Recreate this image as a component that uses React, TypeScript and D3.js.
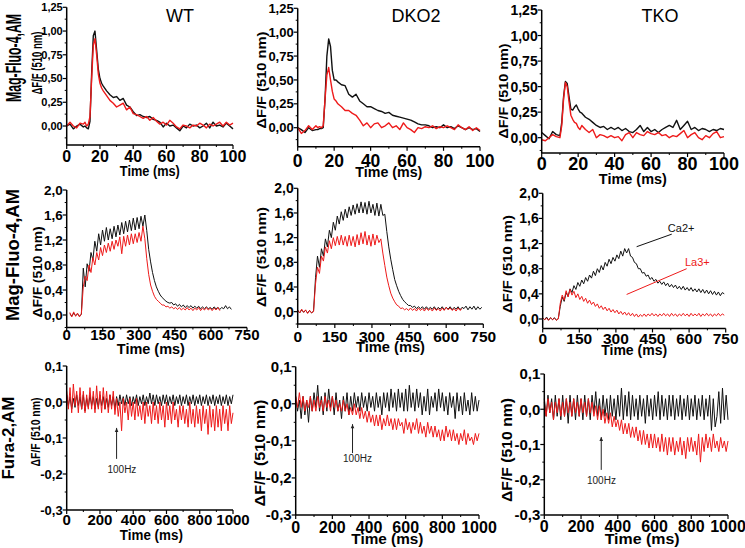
import React from "react";
import * as d3 from "d3";

// ---------------- data ----------------
// Row 1: single twitch, Mag-Fluo-4 (time in ms)
const ROW1_TIME = [0, 2, 4, 6, 8, 10, 11, 12, 13, 14, 15, 16, 17, 18, 19, 20, 21, 22, 24, 26, 28, 30, 32, 34, 36, 38, 40, 42, 44, 46, 48, 50, 52, 54, 56, 58, 60, 62, 64, 66, 68, 70, 72, 74, 76, 78, 80, 82, 84, 86, 88, 90, 92, 94, 96, 98, 100];

const WT_R1_BLACK = [0, .02, -.03, 0, .02, -.01, 0, -.02, -.03, .05, .55, .95, 1.0, .8, .6, .5, .45, .42, .37, .33, .3, .31, .27, .29, .22, .2, .15, .11, .12, .1, .09, .1, .07, .06, .04, -.01, .03, 0, .01, -.02, -.05, 0, -.02, .02, 0, .01, -.02, 0, .03, -.02, .04, 0, .01, -.01, .03, 0, -.03];
const WT_R1_RED = [0, .04, 0, -.02, .03, .02, .04, 0, .02, .1, .5, .85, .92, .75, .55, .45, .4, .37, .32, .27, .24, .2, .22, .24, .17, .2, .13, .12, .1, .08, .1, .06, .09, .05, .02, .04, .01, .06, .03, -.01, -.03, .01, 0, -.02, .01, 0, .03, .01, -.02, .02, 0, .02, .04, 0, .04, .01, .03];

const DKO_R1_BLACK = [0, -.02, -.05, 0, -.03, -.02, -.02, -.01, -.01, 0, .3, .75, .93, .85, .6, .5, .5, .48, .45, .44, .35, .32, .35, .28, .25, .22, .22, .2, .18, .17, .15, .16, .13, .12, .11, .1, .09, .08, .06, .04, .03, .03, .02, 0, .01, 0, .03, 0, .01, -.01, .02, 0, -.02, 0, -.02, -.01, -.04];
const DKO_R1_RED = [0, -.06, -.03, .02, -.02, .02, 0, .01, 0, .02, .3, .55, .63, .5, .38, .3, .28, .25, .22, .18, .18, .15, .13, .08, .02, .05, 0, .04, .05, 0, .02, .05, 0, .02, -.02, .05, 0, -.02, -.05, 0, -.01, .01, 0, .02, -.01, .01, 0, .02, 0, -.02, .03, 0, -.02, .01, -.03, 0, -.03];

const TKO_R1_BLACK = [.05, .02, -.01, .06, .03, .02, .15, .4, .55, .53, .4, .28, .27, .3, .32, .28, .25, .24, .2, .18, .15, .12, .1, .11, .08, .1, .08, .1, .07, .09, .06, .05, .08, .12, .06, .1, .06, .08, .05, .08, .1, .12, .1, .17, .08, .12, .16, .08, .1, .07, .09, .08, .06, .08, .07, .09, .08];
const TKO_R1_RED = [-.02, -.03, 0, .03, .01, 0, .12, .38, .54, .5, .35, .22, .18, .15, .14, .1, .08, .12, .08, .05, .08, 0, .03, .02, 0, .02, 0, .01, -.03, .03, .05, 0, .05, .03, .02, .06, .04, .03, .05, .02, .03, 0, .02, .01, .04, .07, 0, .03, .05, 0, -.02, .02, 0, .04, .06, 0, .01];

// Row 2: tetanic train, Mag-Fluo-4 (sampled every 8 ms from the given start)
const ROW2_STEP = 8;
const WT_R2_START = 13;
const DKO_R2_START = 0;
const TKO_R2_START = 0;

const WT_R2_BLACK = [.02, -.02, .03, -.01, .02, -.02, .01,
  .75, .45, .82, .7, 1.0, .88, 1.18, 1.02, 1.3, 1.12,
  1.36, 1.18, 1.4, 1.2, 1.38, 1.22, 1.42, 1.25, 1.44, 1.28,
  1.48, 1.3, 1.5, 1.33, 1.52, 1.35, 1.55, 1.36,
  1.56, 1.38, 1.58, 1.42, 1.6, 1.35, 1.05, .85, .68, .55,
  .45, .38, .32, .28, .25, .22, .2, .19, .2, .16,
  .18, .14, .17, .13, .16, .12, .15, .12, .15, .11,
  .14, .11, .14, .1, .13, .1, .13, .1, .12, .09,
  .13, .1, .12, .09, .12, .1, .15, .1, .13, .09];
const WT_R2_RED = [.04, -.03, .05, -.02, .03, -.03, .02,
  .45, .62, .55, .8, .68, .92, .8, 1.0, .88, 1.08,
  .95, 1.12, 1.0, 1.15, 1.02, 1.18, 1.05, 1.2,
  1.1, 1.25, .98, 1.26, 1.1, 1.28, 1.12, 1.3, 1.14, 1.3,
  1.16, 1.32, 1.18, 1.42, 1.22, .9, .65, .48, .38, .3,
  .25, .22, .19, .16, .16, .13, .14, .11, .13, .1,
  .12, .09, .12, .08, .11, .08, .12, .08, .11, .07,
  .11, .08, .12, .07, .11, .08, .12, .08, .11, .07,
  .11, .08, .12, .07];

const DKO_R2_BLACK = [.02, -.02, .03, -.01, .02, -.02, .02, -.02, .01,
  .55, .9, .72, 1.02, .9, 1.18, 1.05, 1.32, 1.2, 1.45,
  1.32, 1.55, 1.42, 1.62, 1.48, 1.66, 1.52, 1.7, 1.56, 1.73,
  1.58, 1.75, 1.6, 1.78, 1.6, 1.77, 1.58, 1.79, 1.6, 1.74,
  1.56, 1.76, 1.55, 1.74, 1.56, 1.58, 1.3, 1.05, .85, .68,
  .52, .42, .33, .26, .2, .16, .13, .1, .1, .07,
  .09, .05, .08, .05, .08, .04, .08, .04, .07, .04,
  .08, .03, .07, .04, .08, .03, .07, .04, .08, .03,
  .07, .04, .08, .03, .07, .05, .09, .03, .08, .04,
  .09, .03, .08, .04, .07];
const DKO_R2_RED = [.03, -.02, .04, -.01, .03, -.03, .02, -.02, 0,
  .45, .72, .62, .9, .82, 1.05, .95, 1.15, 1.02, 1.2,
  1.07, 1.22, 1.08, 1.24, 1.08, 1.22, 1.06, 1.24, 1.07, 1.22,
  1.05, 1.25, 1.08, 1.28, 1.1, 1.3, 1.08, 1.24, 1.06, 1.26,
  1.08, 1.24, 1.12, 1.18, .95, .75, .56, .42,
  .3, .22, .16, .11, .09, .05, .06, .03, .05, .02,
  .06, .02, .05, .01, .06, .02, .05, .01, .06, .02,
  .05, .01, .06, .02, .05, .01, .06, .02, .07, .03,
  .06, .02, .05, .01, .06, .02, .05];

const TKO_R2_BLACK = [.02, -.01, .03, -.02, .02, -.01, .02, -.02, .01,
  .2, .35, .28, .42, .36, .48, .42, .53, .47, .58,
  .52, .62, .56, .66, .6, .7, .65, .76, .69, .8,
  .74, .85, .78, .9, .84, .95, .88, .98, .92, 1.02,
  .96, 1.08, 1.0, 1.12, 1.05, 1.12, 1.0, .98, .9, .88,
  .8, .8, .73, .74, .68, .7, .63, .66, .6, .63,
  .57, .6, .55, .59, .53, .57, .51, .55, .5, .54,
  .48, .52, .47, .52, .46, .5, .45, .5, .44, .48,
  .43, .48, .42, .47, .41, .46, .4, .45, .39, .44,
  .38, .43, .37, .42, .4];
const TKO_R2_RED = [.02, -.01, .01, -.02, .02, -.01, .01, -.02, 0,
  .25, .38, .3, .45, .35, .47, .38, .44, .34, .4,
  .31, .36, .28, .33, .25, .3, .23, .27, .2, .24,
  .17, .21, .15, .19, .13, .17, .11, .15, .1, .14,
  .08, .12, .07, .11, .06, .1, .05, .09, .04, .08,
  .03, .07, .04, .08, .04, .08, .05, .09, .05, .08,
  .04, .08, .05, .09, .05, .08, .04, .09, .05, .08,
  .04, .08, .05, .09, .05, .08, .04, .09, .05, .08,
  .05, .09, .04, .08, .05, .09, .05, .08, .04, .08,
  .05, .09, .05, .08, .06];

// Row 3: Fura-2, 100 Hz (sampled every 10 ms from 0)
const ROW3_STEP = 10;
const WT_R3_BLACK = [
  .02, -.01, .015, -.02, .01, -.015, .02, -.01, .015, -.02,
  .02, -.025, .01, -.015, .02, -.01, .015, -.02, .01, -.015,
  .02, -.01, .015, -.02, .01, -.015, .02, -.01, .015, -.02,
  .015, -.01, .02, -.005, .015, -.01, .02, -.005, .015, -.01,
  .015, -.005, .02, -.01, .015, -.005, .02, -.01, .015, -.005,
  .025, -.005, .02, -.01, .02, -.005, .015, -.01, .02, -.005,
  .02, -.01, .015, -.005, .02, -.01, .015, -.005, .02, -.01,
  .015, -.005, .02, -.01, .015, -.005, .02, -.01, .015, -.005,
  .02, -.01, .015, -.005, .02, -.01, .015, -.005, .02, -.01,
  .015, -.005, .02, -.01, .015, -.005, .02, -.01, .015, -.005,
  .02];
const WT_R3_RED = [
  .03, -.02, .04, -.03, .05, -.01, .03, -.03, .04, -.02,
  .03, -.03, .02, -.02, .04, -.02, .03, -.03, .045, -.02,
  .03, -.03, .04, -.02, .03, -.03, .02, -.02, .03, -.035,
  .01, -.04, 0, -.08, .01, -.03, 0, -.05, .01, -.04,
  0, -.05, .01, -.04, -.01, -.05, 0, -.06, 0, -.04,
  -.01, -.06, 0, -.05, -.01, -.06, 0, -.05, -.01, -.07,
  0, -.05, -.01, -.06, 0, -.05, -.02, -.07, -.01, -.05,
  -.01, -.06, -.02, -.07, 0, -.06, -.02, -.07, -.01, -.06,
  -.02, -.08, -.01, -.06, -.02, -.09, -.01, -.07, -.02, -.08,
  -.01, -.07, -.02, -.08, -.01, -.06, -.02, -.08, -.01, -.06,
  -.03];

const DKO_R3_BLACK = [
  .02, -.02, .01, -.04, .02, -.03, .01, -.05, .02, -.02,
  .03, -.01, .05, -.02, .02, -.03, .03, -.02, .04, -.01,
  .02, -.03, .03, -.02, .01, -.04, .02, -.02, .03, -.03,
  .02, -.02, .03, -.01, .02, -.02, .03, -.01, .02, -.02,
  .03, -.01, .02, -.02, .03, -.01, .02, -.03, .03, -.01,
  .03, -.02, .04, -.01, .03, -.02, .04, -.01, .03, -.02,
  .04, -.02, .05, -.01, .03, -.02, .04, -.01, .03, -.03,
  .02, -.02, .04, -.03, .02, -.01, .03, -.02, .04, -.01,
  .03, -.02, .02, -.03, .03, -.01, .02, -.04, .03, -.02,
  .02, -.03, .03, -.02, .01, -.03, .03, -.02, .02, -.02,
  .01];
const DKO_R3_RED = [
  .02, -.01, .03, -.01, .02, -.02, .01, -.01, .02, -.02,
  .01, -.02, .02, -.01, .01, -.02, .02, -.01, .01, -.02,
  .02, -.01, .01, -.02, 0, -.02, .01, -.02, 0, -.03,
  -.01, -.03, 0, -.03, -.01, -.04, -.01, -.04, -.02, -.05,
  -.02, -.05, -.03, -.06, -.03, -.06, -.03, -.07, -.04, -.06,
  -.03, -.06, -.04, -.07, -.04, -.07, -.04, -.06, -.05, -.08,
  -.04, -.07, -.05, -.08, -.05, -.07, -.04, -.08, -.05, -.08,
  -.06, -.09, -.05, -.08, -.06, -.09, -.06, -.09, -.07, -.1,
  -.07, -.1, -.06, -.09, -.07, -.1, -.07, -.1, -.08, -.11,
  -.08, -.1, -.07, -.11, -.08, -.1, -.09, -.11, -.08, -.1,
  -.08];

const TKO_R3_BLACK = [
  .03, -.02, .04, -.01, .03, -.03, .04, -.02, .03, -.03,
  .04, -.02, .03, -.04, .04, -.02, .03, -.03, .04, -.02,
  .03, -.03, .04, -.02, .03, -.03, .04, -.01, .05, -.02,
  .03, -.03, .04, -.02, .03, -.03, .04, -.02, .03, -.03,
  .04, -.02, .06, -.03, .04, -.02, .05, -.03, .04, -.02,
  .03, -.03, .04, -.02, .03, -.04, .04, -.02, .03, -.03,
  .04, -.02, .05, -.03, .04, -.02, .03, -.03, .04, -.02,
  .04, -.03, .03, -.02, .04, -.03, .03, -.02, .04, -.03,
  .03, -.02, .04, -.03, .03, -.02, .04, -.03, .03, -.02,
  .04, -.06, .03, -.05, -.02, .05, -.04, .06, -.03, .04,
  -.03];
const TKO_R3_RED = [
  .02, -.02, .03, -.01, .02, -.03, .02, -.01, .03, -.02,
  .02, -.02, .03, -.01, .02, -.02, .03, -.01, .02, -.02,
  .03, -.01, .02, -.02, .03, -.01, .02, -.02, .01, -.03,
  .01, -.03, 0, -.04, -.01, -.04, -.01, -.05, -.02, -.05,
  -.03, -.06, -.03, -.07, -.04, -.07, -.04, -.08, -.05, -.08,
  -.05, -.09, -.06, -.1, -.06, -.1, -.07, -.11, -.07, -.11,
  -.07, -.11, -.08, -.12, -.07, -.12, -.08, -.13, -.08, -.12,
  -.08, -.13, -.09, -.12, -.08, -.13, -.09, -.14, -.08, -.12,
  -.08, -.12, -.09, -.13, -.07, -.15, -.08, -.12, -.07, -.11,
  -.08, -.12, -.07, -.11, -.09, -.12, -.08, -.11, -.09, -.12,
  -.09];

// tick values
const ROW1_X_TICKS = [0, 20, 40, 60, 80, 100];
const ROW1_Y_TICKS = [0, 0.25, 0.5, 0.75, 1.0, 1.25];
const ROW2_X_TICKS = [0, 150, 300, 450, 600, 750];
const ROW2_Y_TICKS = [0, 0.4, 0.8, 1.2, 1.6, 2.0];
const ROW3_X_TICKS = [0, 200, 400, 600, 800, 1000];
const ROW3_Y_TICKS = [-0.3, -0.2, -0.1, 0, 0.1];

// texts
const COLUMN_TITLES = ["WT", "DKO2", "TKO"];
const ROW_TITLES = ["Mag-Fluo-4,AM", "Mag-Fluo-4,AM", "Fura-2,AM"];
const X_TITLE = "Time (ms)";
const Y_TITLE = "\u0394F/F (510 nm)";
const STIM_LABEL = "100Hz";
const STIM_TIME = [300, 310, 310];
const ION_LABELS = ["Ca2+", "La3+"];

// ---------------- helpers ----------------
type Pt = [number, number];
const zipXY = (xs: number[], ys: number[]): Pt[] =>
  ys.slice(0, xs.length).map((v, i) => [xs[i], v] as Pt);
const regular = (start: number, step: number, ys: number[]): Pt[] =>
  ys.map((v, i) => [start + i * step, v] as Pt);

const locale = d3.formatLocale({ decimal: ",", thousands: ".", grouping: [3], currency: ["", ""], minus: "-" });

const FONT = "'Liberation Sans', Arial, Helvetica, sans-serif";
const BLACK = "#111111";
const RED = "#ee1a1a";

// ---------------- layout ----------------
type Spec = {
  x0: number; x1: number; yT: number; yB: number;
  xDom: [number, number]; yDom: [number, number];
  xTicks: number[]; yTicks: number[]; xMinor: number; yMinor: number; yFmt: string;
  black: Pt[]; red: Pt[]; sw: number;
  xTickFs: number; xTickOff: number; yTickFs: number;
  timeOff: number; timeLen: number; timeDx: number; timeFs: number;
  yLab: { cx: number; cy: number; len: number; fs: number };
};

const SPECS: Spec[] = [
  { x0: 66.7, x1: 233, yT: 7.3, yB: 145, xDom: [0, 100], yDom: [-0.2, 1.25], xTicks: ROW1_X_TICKS, yTicks: ROW1_Y_TICKS, xMinor: 10, yMinor: 0.125, yFmt: ".2f",
    black: zipXY(ROW1_TIME, WT_R1_BLACK), red: zipXY(ROW1_TIME, WT_R1_RED), sw: 1.4,
    xTickFs: 16, xTickOff: 17, yTickFs: 11, timeOff: 31, timeLen: 60, timeDx: 0, timeFs: 14, yLab: { cx: 37, cy: 63, len: 63, fs: 14 } },
  { x0: 297.7, x1: 480, yT: 8.3, yB: 146.8, xDom: [0, 100], yDom: [-0.2, 1.25], xTicks: ROW1_X_TICKS, yTicks: ROW1_Y_TICKS, xMinor: 10, yMinor: 0.125, yFmt: ".2f",
    black: zipXY(ROW1_TIME, DKO_R1_BLACK), red: zipXY(ROW1_TIME, DKO_R1_RED), sw: 1.4,
    xTickFs: 17.5, xTickOff: 20, yTickFs: 13, timeOff: 30.5, timeLen: 67, timeDx: 0, timeFs: 15, yLab: { cx: 261, cy: 80, len: 97, fs: 13.5 } },
  { x0: 541.7, x1: 724, yT: 10, yB: 153, xDom: [0, 100], yDom: [-0.15, 1.25], xTicks: ROW1_X_TICKS, yTicks: ROW1_Y_TICKS, xMinor: 10, yMinor: 0.125, yFmt: ".2f",
    black: zipXY(ROW1_TIME, TKO_R1_BLACK), red: zipXY(ROW1_TIME, TKO_R1_RED), sw: 1.4,
    xTickFs: 18, xTickOff: 17, yTickFs: 14, timeOff: 31, timeLen: 68, timeDx: 0, timeFs: 15, yLab: { cx: 503.5, cy: 91, len: 95, fs: 13.5 } },

  { x0: 66.7, x1: 247, yT: 190, yB: 327.5, xDom: [0, 750], yDom: [-0.2, 2.0], xTicks: ROW2_X_TICKS, yTicks: ROW2_Y_TICKS, xMinor: 75, yMinor: 0.2, yFmt: ".1f",
    black: regular(WT_R2_START, ROW2_STEP, WT_R2_BLACK), red: regular(WT_R2_START, ROW2_STEP, WT_R2_RED), sw: 1,
    xTickFs: 15, xTickOff: 12.5, yTickFs: 13.5, timeOff: 26.5, timeLen: 68, timeDx: -6, timeFs: 15, yLab: { cx: 37.5, cy: 272, len: 91, fs: 13.5 } },
  { x0: 297.7, x1: 483.3, yT: 188.3, yB: 324, xDom: [0, 750], yDom: [-0.2, 2.0], xTicks: ROW2_X_TICKS, yTicks: ROW2_Y_TICKS, xMinor: 75, yMinor: 0.2, yFmt: ".1f",
    black: regular(DKO_R2_START, ROW2_STEP, DKO_R2_BLACK), red: regular(DKO_R2_START, ROW2_STEP, DKO_R2_RED), sw: 1,
    xTickFs: 15.5, xTickOff: 18, yTickFs: 14, timeOff: 28, timeLen: 69, timeDx: 0, timeFs: 15, yLab: { cx: 261.5, cy: 257, len: 100, fs: 13.5 } },
  { x0: 542.7, x1: 725.7, yT: 193.3, yB: 328.4, xDom: [0, 750], yDom: [-0.15, 2.0], xTicks: ROW2_X_TICKS, yTicks: ROW2_Y_TICKS, xMinor: 75, yMinor: 0.2, yFmt: ".1f",
    black: regular(TKO_R2_START, ROW2_STEP, TKO_R2_BLACK), red: regular(TKO_R2_START, ROW2_STEP, TKO_R2_RED), sw: 1,
    xTickFs: 15.5, xTickOff: 15.6, yTickFs: 14, timeOff: 27, timeLen: 66, timeDx: 0, timeFs: 15, yLab: { cx: 507, cy: 264, len: 98, fs: 13.5 } },

  { x0: 66.7, x1: 233, yT: 366, yB: 510, xDom: [0, 1000], yDom: [-0.3, 0.1], xTicks: ROW3_X_TICKS, yTicks: ROW3_Y_TICKS, xMinor: 100, yMinor: 0.05, yFmt: ".1f",
    black: regular(0, ROW3_STEP, WT_R3_BLACK), red: regular(0, ROW3_STEP, WT_R3_RED), sw: 1,
    xTickFs: 15, xTickOff: 15, yTickFs: 13, timeOff: 30, timeLen: 63, timeDx: 1.5, timeFs: 14, yLab: { cx: 35, cy: 432, len: 69, fs: 13 } },
  { x0: 295.7, x1: 479, yT: 366.7, yB: 515, xDom: [0, 1000], yDom: [-0.3, 0.1], xTicks: ROW3_X_TICKS, yTicks: ROW3_Y_TICKS, xMinor: 100, yMinor: 0.05, yFmt: ".1f",
    black: regular(0, ROW3_STEP, DKO_R3_BLACK), red: regular(0, ROW3_STEP, DKO_R3_RED), sw: 1,
    xTickFs: 16, xTickOff: 18, yTickFs: 15, timeOff: 29, timeLen: 72, timeDx: 0, timeFs: 15, yLab: { cx: 259.5, cy: 453, len: 107, fs: 14 } },
  { x0: 544.3, x1: 728, yT: 374, yB: 515, xDom: [0, 1000], yDom: [-0.3, 0.1], xTicks: ROW3_X_TICKS, yTicks: ROW3_Y_TICKS, xMinor: 100, yMinor: 0.05, yFmt: ".1f",
    black: regular(0, ROW3_STEP, TKO_R3_BLACK), red: regular(0, ROW3_STEP, TKO_R3_RED), sw: 1,
    xTickFs: 16, xTickOff: 17, yTickFs: 15, timeOff: 28.5, timeLen: 75, timeDx: 6, timeFs: 15, yLab: { cx: 507, cy: 450, len: 104, fs: 14 } },
];

// annotation positions (data coords)
const STIM_ANN = [
  { y0: -0.158, y1: -0.072, tx: 332, ty: -0.197 },
  { y0: -0.133, y1: -0.055, tx: 337, ty: -0.158 },
  { y0: -0.172, y1: -0.079, tx: 311, ty: -0.213 },
];
const ION_ANN = [
  { line: [[385, 1.15], [529, 1.35]] as Pt[], text: [513, 1.385] as Pt, color: BLACK },
  { line: [[344, 0.39], [590, 0.8]] as Pt[], text: [583, 0.84] as Pt, color: RED },
];

const TITLE_POS = [{ x: 180, y: 22 }, { x: 416, y: 22 }, { x: 660, y: 22 }];
const ROW_TITLE_POS = [
  { cx: 13, cy: 58, len: 88, fs: 22 },
  { cx: 12.5, cy: 255, len: 132, fs: 19 },
  { cx: 8.5, cy: 438, len: 83, fs: 17 },
];

function minorTicks(dom: [number, number], step: number, majors: number[]) {
  const out: number[] = [];
  const start = Math.ceil(dom[0] / step - 1e-9) * step;
  for (let v = start; v <= dom[1] + 1e-9; v += step) {
    if (!majors.some((m) => Math.abs(m - v) < 1e-6)) out.push(v);
  }
  return out;
}

function Panel({ s, idx }: { s: Spec; idx: number }) {
  const xs = d3.scaleLinear().domain(s.xDom).range([s.x0, s.x1]);
  const ys = d3.scaleLinear().domain(s.yDom).range([s.yB, s.yT]);
  const fmt = locale.format(s.yFmt);
  const line = d3.line<Pt>().x((d) => xs(d[0])).y((d) => ys(d[1]));
  const xMin = minorTicks(s.xDom, s.xMinor, s.xTicks);
  const yMin = minorTicks(s.yDom, s.yMinor, s.yTicks);
  const row = Math.floor(idx / 3);
  const col = idx % 3;
  return (
    <g>
      <path d={line(s.black) || ""} fill="none" stroke={BLACK} strokeWidth={s.sw} strokeLinejoin="round" />
      <path d={line(s.red) || ""} fill="none" stroke={RED} strokeWidth={s.sw} strokeLinejoin="round" />
      {/* axes */}
      <line x1={s.x0} x2={s.x0} y1={ys(s.yDom[0])} y2={ys(s.yDom[1])} stroke="#000" strokeWidth={1.5} />
      <line x1={s.x0} x2={xs(s.xDom[1])} y1={s.yB} y2={s.yB} stroke="#000" strokeWidth={1.5} />
      {s.yTicks.map((t) => (
        <g key={"yt" + t}>
          <line x1={s.x0 - 4} x2={s.x0} y1={ys(t)} y2={ys(t)} stroke="#000" strokeWidth={1.2} />
          <text x={s.x0 - 4} y={ys(t)} dy="0.36em" textAnchor="end" fontSize={s.yTickFs} fontWeight="bold" fontFamily={FONT}>{fmt(t)}</text>
        </g>
      ))}
      {yMin.map((t) => (
        <line key={"ym" + t} x1={s.x0 - 2} x2={s.x0} y1={ys(t)} y2={ys(t)} stroke="#000" strokeWidth={1} />
      ))}
      {s.xTicks.map((t) => (
        <g key={"xt" + t}>
          <line x1={xs(t)} x2={xs(t)} y1={s.yB} y2={s.yB + 4} stroke="#000" strokeWidth={1.2} />
          <text x={xs(t)} y={s.yB + s.xTickOff} textAnchor="middle" fontSize={s.xTickFs} fontWeight="bold" fontFamily={FONT}>{String(t)}</text>
        </g>
      ))}
      {xMin.map((t) => (
        <line key={"xm" + t} x1={xs(t)} x2={xs(t)} y1={s.yB} y2={s.yB + 2} stroke="#000" strokeWidth={1} />
      ))}
      <text x={(s.x0 + s.x1) / 2 + s.timeDx} y={s.yB + s.timeOff} textAnchor="middle" fontSize={s.timeFs} fontWeight="bold" fontFamily={FONT}
        textLength={s.timeLen} lengthAdjust="spacingAndGlyphs">{X_TITLE}</text>
      <text transform={`translate(${s.yLab.cx},${s.yLab.cy}) rotate(-90)`} textAnchor="middle" dominantBaseline="central"
        fontSize={s.yLab.fs} fontWeight="bold" fontFamily={FONT} textLength={s.yLab.len} lengthAdjust="spacingAndGlyphs">{Y_TITLE}</text>
      {row === 2 && (
        <g>
          <line x1={xs(STIM_TIME[col])} x2={xs(STIM_TIME[col])} y1={ys(STIM_ANN[col].y0)} y2={ys(STIM_ANN[col].y1)} stroke="#222" strokeWidth={1} />
          <path d={`M${xs(STIM_TIME[col])},${ys(STIM_ANN[col].y1)} l-1.8,4 l3.6,0 z`} fill="#222" />
          <text x={xs(STIM_ANN[col].tx)} y={ys(STIM_ANN[col].ty)} textAnchor="middle" fontSize={10} fontFamily={FONT} fill="#222">{STIM_LABEL}</text>
        </g>
      )}
      {idx === 5 && ION_ANN.map((a, i) => (
        <g key={"ion" + i}>
          <line x1={xs(a.line[0][0])} y1={ys(a.line[0][1])} x2={xs(a.line[1][0])} y2={ys(a.line[1][1])} stroke={a.color} strokeWidth={1} />
          <text x={xs(a.text[0])} y={ys(a.text[1])} fontSize={11} fontFamily={FONT} fill={a.color}>{ION_LABELS[i]}</text>
        </g>
      ))}
    </g>
  );
}

export default function App() {
  return (
    <svg width={745} height={548} viewBox="0 0 745 548" style={{ position: "absolute", left: 0, top: 0, background: "#fff" }}>
      <rect x={0} y={0} width={745} height={548} fill="#fff" />
      {SPECS.map((s, i) => <Panel key={i} s={s} idx={i} />)}
      {COLUMN_TITLES.map((t, i) => (
        <text key={t} x={TITLE_POS[i].x} y={TITLE_POS[i].y} textAnchor="middle" fontSize={18} fontFamily={FONT}>{t}</text>
      ))}
      {ROW_TITLES.map((t, i) => (
        <text key={i} transform={`translate(${ROW_TITLE_POS[i].cx},${ROW_TITLE_POS[i].cy}) rotate(-90)`} textAnchor="middle" dominantBaseline="central"
          fontSize={ROW_TITLE_POS[i].fs} fontWeight="bold" fontFamily={FONT} textLength={ROW_TITLE_POS[i].len} lengthAdjust="spacingAndGlyphs">{t}</text>
      ))}
    </svg>
  );
}
